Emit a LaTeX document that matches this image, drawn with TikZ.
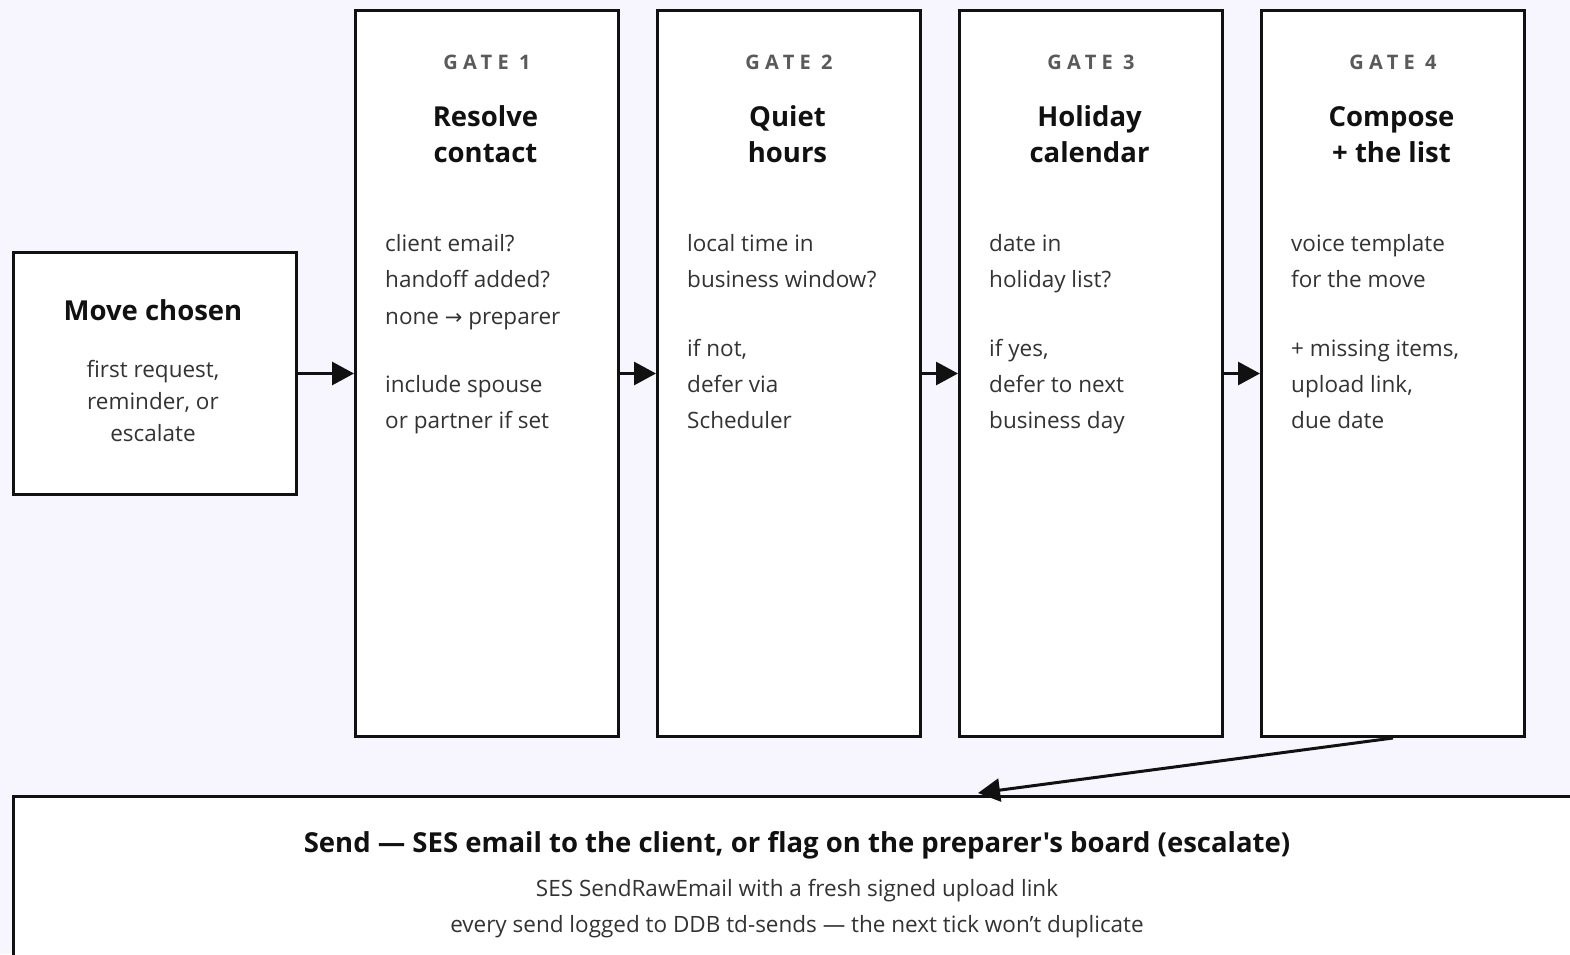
\documentclass[tikz,border=0pt]{standalone}
\usepackage{fontspec}
\setmainfont{Open Sans}[Ligatures=TeXOff]
\newfontfamily\symfont{DejaVu Sans}
\usetikzlibrary{arrows.meta}
\definecolor{bg}{HTML}{F7F6FE}
\definecolor{ink}{HTML}{111111}
\definecolor{bodyc}{HTML}{333333}
\definecolor{labelc}{HTML}{5A5A5A}
\begin{document}
\begin{tikzpicture}[x=1pt,y=-1pt,
  box/.style={draw=ink, line width=3pt, fill=white, inner sep=0pt},
  gatelabel/.style={anchor=base, inner sep=0pt, text=labelc,
    font=\fontsize{20}{20}\selectfont\bfseries\addfontfeature{LetterSpace=26}},
  title/.style={anchor=base, inner sep=0pt, text=ink, font=\fontsize{27.5}{27.5}\selectfont\bfseries},
  bodyl/.style={anchor=base west, inner sep=0pt, text=bodyc, font=\fontsize{22.5}{22.5}\selectfont},
  bodyc/.style={anchor=base, inner sep=0pt, text=bodyc, font=\fontsize{22.5}{22.5}\selectfont},
  arr/.style={draw=ink, line width=3pt, -{Triangle[length=22pt,width=23pt]}}]
\clip (0,0) rectangle (1570,954);
\fill[bg] (0,0) rectangle (1570,954);

% start box
\node[box, anchor=north west, minimum width=283pt, minimum height=242pt] (move) at (12,251) {};
\node[title] (movet) at (153,320) {Move chosen};
\node[bodyc] (moveb1) at (153,377) {first request,};
\node[bodyc] (moveb2) at (153,409) {reminder, or};
\node[bodyc] (moveb3) at (153,441) {escalate};

% the four gates
\foreach \i/\x/\ta/\tb in {1/354/Resolve/contact, 2/656/Quiet/hours, 3/958/Holiday/calendar, 4/1260/Compose/+ the list}{
  \node[box, anchor=north west, minimum width=263pt, minimum height=726pt] (gate\i) at (\x,9) {};
  \node[gatelabel] (gate\i l) at ([xshift=133pt]\x,69) {GATE \i};
  \node[title] (gate\i a) at ([xshift=131.5pt]\x,126) {\ta};
  \node[title] (gate\i b) at ([xshift=131.5pt]\x,162) {\tb};
}

% gate 1 text
\node[bodyl] (g1a) at (385,251) {client email?};
\node[bodyl] (g1b) at (385,287) {handoff added?};
\node[bodyl] (g1c) at (385,324) {none {\symfont\fontsize{21}{21}\selectfont →} preparer};
\node[bodyl] (g1d) at (385,392) {include spouse};
\node[bodyl] (g1e) at (385,428) {or partner if set};
% gate 2 text
\node[bodyl] (g2a) at (687,251) {local time in};
\node[bodyl] (g2b) at (687,287) {business window?};
\node[bodyl] (g2c) at (687,356) {if not,};
\node[bodyl] (g2d) at (687,392) {defer via};
\node[bodyl] (g2e) at (687,428) {Scheduler};
% gate 3 text
\node[bodyl] (g3a) at (989,251) {date in};
\node[bodyl] (g3b) at (989,287) {holiday list?};
\node[bodyl] (g3c) at (989,356) {if yes,};
\node[bodyl] (g3d) at (989,392) {defer to next};
\node[bodyl] (g3e) at (989,428) {business day};
% gate 4 text
\node[bodyl] (g4a) at (1291,251) {voice template};
\node[bodyl] (g4b) at (1291,287) {for the move};
\node[bodyl] (g4c) at (1291,356) {+ missing items,};
\node[bodyl] (g4d) at (1291,392) {upload link,};
\node[bodyl] (g4e) at (1291,428) {due date};

% send box (runs past the right and bottom edges)
\node[box, anchor=north west, minimum width=1570pt, minimum height=200pt] (send) at (12,795) {};
\node[title] (sendt) at (797,852) {Send — SES email to the client, or flag on the preparer's board (escalate)};
\node[bodyc] (sendb1) at (797,896) {SES SendRawEmail with a fresh signed upload link};
\node[bodyc] (sendb2) at (797,932) {every send logged to DDB td-sends — the next tick won’t duplicate};
\coordinate (sendin) at (978,793);

% connectors
\draw[arr] (move.east) -- (gate1.west);
\draw[arr] (gate1.east) -- (gate2.west);
\draw[arr] (gate2.east) -- (gate3.west);
\draw[arr] (gate3.east) -- (gate4.west);
\draw[arr] (gate4.south) -- (sendin);
\end{tikzpicture}
\end{document}
